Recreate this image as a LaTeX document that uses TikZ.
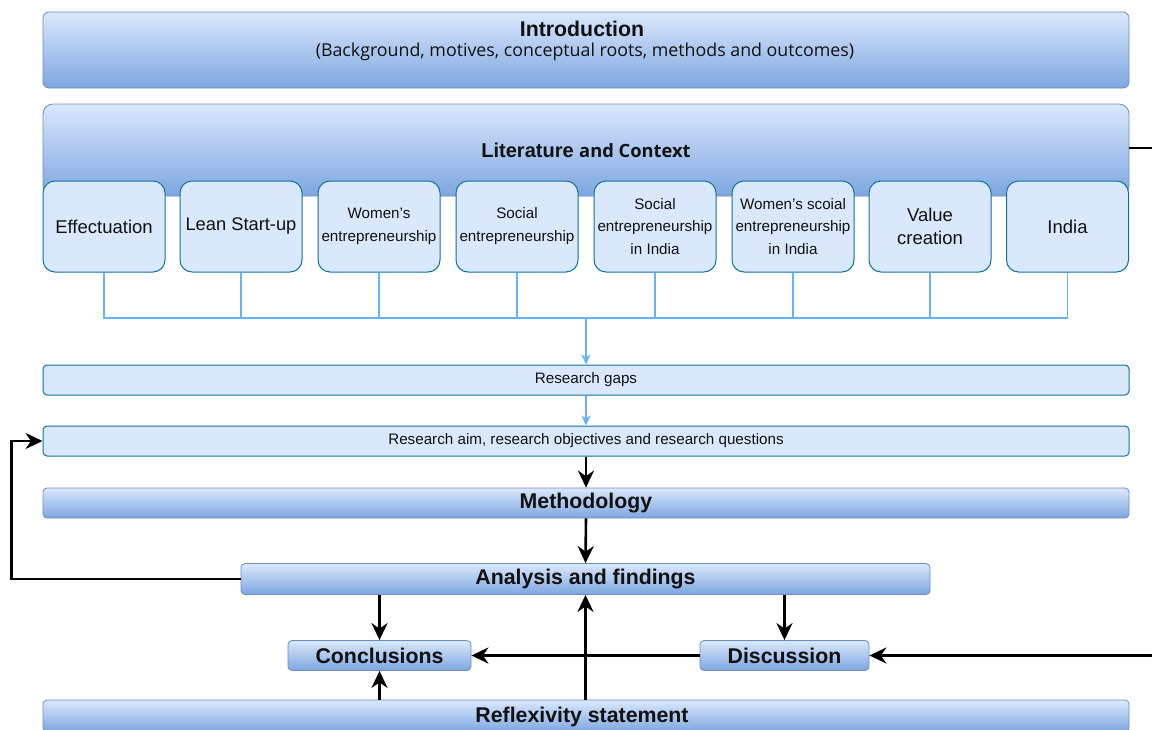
\documentclass[tikz,border=0pt]{standalone}
\usepackage{fontspec}
\setmainfont{Liberation Sans}
\newfontfamily\osans{Open Sans}
\usetikzlibrary{arrows.meta}
\definecolor{lightfill}{HTML}{DAE8FC}
\definecolor{darkfill}{HTML}{7EA6E0}
\definecolor{gradstroke}{HTML}{6C8EBF}
\definecolor{tealstroke}{HTML}{10739E}
\definecolor{buslink}{HTML}{66B2FF}
\definecolor{ink}{HTML}{111111}
\tikzset{
  gradbox/.style={draw=gradstroke, line width=0.8pt, rounded corners=6pt,
    top color=lightfill, bottom color=darkfill, text=ink, align=center, inner sep=0pt},
  flatbox/.style={draw=tealstroke, line width=1pt, rounded corners=4pt,
    fill=lightfill, text=ink, align=center, inner sep=0pt},
  topicbox/.style={draw=tealstroke, line width=1pt, rounded corners=12pt,
    fill=lightfill, text=ink, align=center, inner sep=0pt,
    minimum width=122pt, minimum height=91pt},
  buslinestyle/.style={draw=buslink, line width=1.3pt},
  busarrow/.style={buslinestyle, -{Stealth[length=10pt,width=9pt,inset=3pt]}},
  flowarrow/.style={draw=black, line width=2.6pt, -{Stealth[length=17pt,width=16pt,inset=5.5pt]}},
  flowline/.style={draw=black, line width=2.6pt},
  headfont/.style={font=\bfseries\fontsize{21.3}{24}\selectfont},
}
\begin{document}
\begin{tikzpicture}[x=1pt,y=-1pt]
\useasboundingbox (0,0) rectangle (1152,729);
\clip (0,0) rectangle (1152,729);

% header
\node[gradbox, minimum width=1086pt, minimum height=76pt] (intro) at (586,50) {};
\node[text=ink, headfont] (introt) at (582,29) {Introduction};
\node[text=ink, font=\osans\fontsize{17.8}{20}\selectfont] (intros) at (585,52) {(Background, motives, conceptual roots, methods and outcomes)};

% literature band
\node[gradbox, rounded corners=10pt, minimum width=1086pt, minimum height=92pt] (lit) at (586,150) {};
\node[text=ink] (litt) at (586,150) {\bfseries\fontsize{20}{24}\selectfont Literature \osans\fontsize{18.3}{22}\selectfont and Context};

% topics
\node[topicbox, font=\fontsize{18.5}{22}\selectfont] (b1) at (104,226.5) {Effectuation};
\node[topicbox, font=\fontsize{18.3}{22}\selectfont] (b2) at (241,226.5) {\raisebox{-1.5pt}{Lean Start-up}};
\node[topicbox, font=\fontsize{15.2}{23}\selectfont] (b3) at (379,226.5) {Women's\\entrepreneurship};
\node[topicbox, font=\fontsize{15.2}{23}\selectfont] (b4) at (517,226.5) {Social\\entrepreneurship};
\node[topicbox, font=\fontsize{15.2}{22.5}\selectfont] (b5) at (655,226.5) {Social\\entrepreneurship\\in India};
\node[topicbox, font=\fontsize{15.2}{22.5}\selectfont] (b6) at (793,226.5) {Women's scoial\\entrepreneurship\\in India};
\node[topicbox, font=\fontsize{18.5}{23}\selectfont] (b7) at (930,226.5) {Value\\creation};
\node[topicbox, font=\fontsize{18.5}{22}\selectfont] (b8) at (1067.5,226.5) {India};

% collecting bus
\coordinate (bus) at (586,318);
\draw[buslinestyle] (b1.south) -- (b1.south |- bus) -- (b8.south |- bus) -- (b8.south);
\foreach \i in {2,...,7} \draw[buslinestyle] (b\i.south) -- (b\i.south |- bus);

% gaps and aims
\node[flatbox, minimum width=1086pt, minimum height=30pt, font=\fontsize{15.2}{17}\selectfont] (gaps) at (586,380) {Research gaps};
\node[flatbox, minimum width=1086pt, minimum height=30pt, font=\fontsize{15.2}{17}\selectfont] (aim) at (586,441) {Research aim, research objectives and research questions};
\draw[busarrow] (bus) -- (gaps.north);
\draw[busarrow] (gaps.south) -- (aim.north);

% process chain
\node[gradbox, rounded corners=4pt, minimum width=1086pt, minimum height=30pt, headfont] (meth) at (586,503) {Methodology};
\node[gradbox, rounded corners=4pt, minimum width=689pt, minimum height=31pt, headfont] (ana) at (585.5,579) {Analysis and findings};
\node[gradbox, rounded corners=4pt, minimum width=183pt, minimum height=30pt, headfont] (conc) at (379.5,655.5) {Conclusions};
\node[gradbox, rounded corners=4pt, minimum width=169pt, minimum height=30pt, headfont] (disc) at (784.5,655.5) {Discussion};
\node[gradbox, rounded corners=4pt, minimum width=1086pt, minimum height=32pt] (refl) at (586,716) {};
\node[text=ink, headfont] (reflt) at (582,717) {Reflexivity statement};

\coordinate (litout) at (1160,148);
\coordinate (discin) at (1160,655.5);

\draw[flowarrow] (aim.south) -- (meth.north);
\draw[flowarrow] (meth.south) -- (ana.north);
\draw[flowarrow] (ana.west) -- ++(-229,0) |- (aim.west);
\draw[flowarrow] (ana.south -| conc) -- (conc.north);
\draw[flowarrow] (ana.south -| disc) -- (disc.north);
\draw[flowarrow] (disc.west) -- (conc.east);
\draw[flowarrow] (discin) -- (disc.east);
\draw[flowarrow] (refl.north -| ana) -- (ana.south);
\draw[flowarrow] (refl.north -| conc) -- (conc.south);
\draw[flowline] (lit.east |- litout) -- (litout);
\end{tikzpicture}
\end{document}
